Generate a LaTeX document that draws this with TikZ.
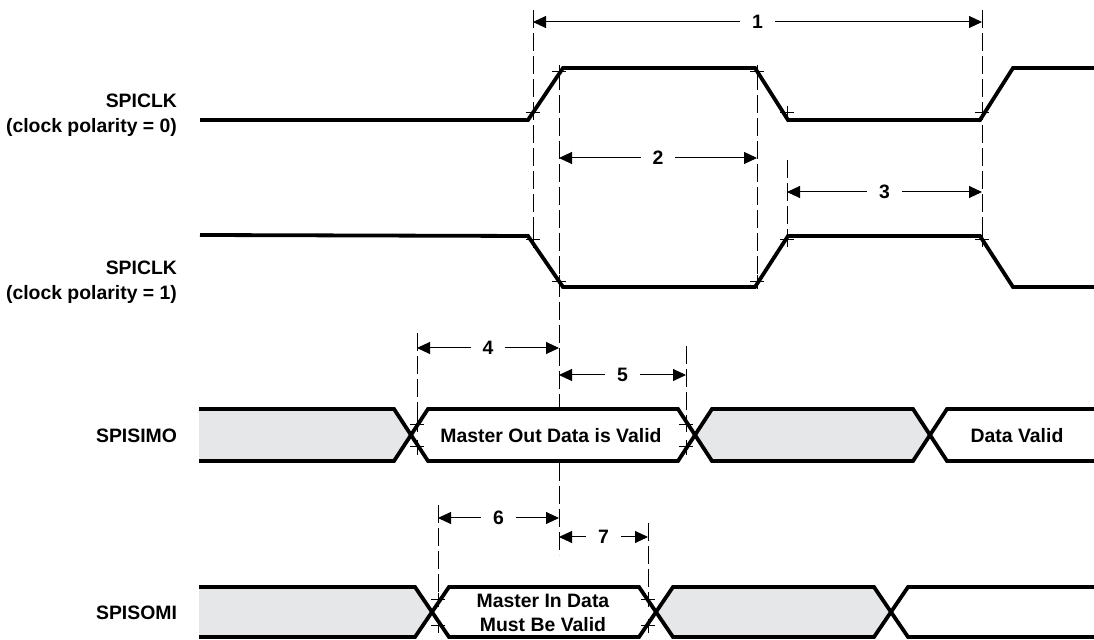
\documentclass[tikz,border=0pt]{standalone}
\usepackage{fontspec}
\setmainfont{Liberation Sans}
\usepackage{tikz}
\usetikzlibrary{arrows.meta}
\definecolor{busgray}{RGB}{230,231,232}

\begin{document}
\begin{tikzpicture}[x=0.5pt, y=-0.5pt,
        font=\fontsize{9.7}{12.3}\selectfont\bfseries,
        signal/.style={line width=1.9pt, line join=miter},
        guide/.style={line width=0.5pt, dash pattern=on 9pt off 2.5pt},
        tick/.style={line width=0.5pt},
        dim/.style={line width=0.5pt, {Triangle[length=6.5pt,width=6pt]}-{Triangle[length=6.5pt,width=6pt]}},
        gap/.style={fill=white, inner xsep=6pt, inner ysep=1pt}]

        \useasboundingbox (0,0) rectangle (1094,640);

        \foreach \gx/\gtop/\gbot in {533/10/248, 559/72/555, 757/72/284, 787/160/242, 982/10/246,
                417/333/455, 686/346/455, 438/505/630, 648/523/630}
            \draw[guide] (\gx,\gtop) -- (\gx,\gbot);

        % SPISIMO bus
        \fill[busgray] (199,409) -- (394,409) -- (411,435) -- (394,461) -- (199,461) -- cycle;
        \fill[white] (411,435) -- (428,409) -- (678,409) -- (695,435) -- (678,461) -- (428,461) -- cycle;
        \fill[busgray] (695,435) -- (712,409) -- (913,409) -- (930,435) -- (913,461) -- (712,461) -- cycle;
        \draw[signal] (199,409) -- (394,409) -- (428,461) -- (678,461) -- (712,409) -- (913,409) -- (947,461) -- (1094,461);
        \draw[signal] (199,461) -- (394,461) -- (428,409) -- (678,409) -- (712,461) -- (913,461) -- (947,409) -- (1094,409);

        % SPISOMI bus
        \fill[busgray] (199,587) -- (415,587) -- (432,612) -- (415,637) -- (199,637) -- cycle;
        \fill[white] (432,612) -- (449,587) -- (639,587) -- (656,612) -- (639,637) -- (449,637) -- cycle;
        \fill[busgray] (656,612) -- (673,587) -- (874,587) -- (891,612) -- (874,637) -- (673,637) -- cycle;
        \draw[signal] (199,587) -- (415,587) -- (449,637) -- (639,637) -- (673,587) -- (874,587) -- (908,637) -- (1094,637);
        \draw[signal] (199,637) -- (415,637) -- (449,587) -- (639,587) -- (673,637) -- (874,637) -- (908,587) -- (1094,587);

        % clocks
        \draw[signal] (200,120) -- (528,120) -- (563,68) -- (755,68) -- (788,120) -- (980,120) -- (1013,68) -- (1094,68);
        \draw[signal] (200,235) -- (528,236) -- (563,287) -- (755,287) -- (788,236) -- (980,236) -- (1013,287) -- (1094,287);

        \foreach \px/\py in {533/113, 559/72, 757/72, 787/113, 982/113, 533/240, 559/282, 757/282, 787/240, 982/240,
                417/425, 417/447, 686/425, 686/447, 438/600, 438/626, 648/600, 648/626}
            \draw[tick] (\px-7,\py) -- (\px+7,\py) (\px,\py-7) -- (\px,\py+7);

        \foreach \dn/\xa/\xb/\dy in {1/533/982/22, 2/559/757/158, 3/787/982/192, 4/417/559/348,
                5/559/686/375, 6/438/559/518, 7/559/648/537} {
            \coordinate (d\dn-l) at (\xa,\dy);
            \coordinate (d\dn-r) at (\xb,\dy);
            \draw[dim] (d\dn-l) -- node[gap] {\dn} (d\dn-r);
        }

        \node (clk0) [anchor=east, align=right] at (184,115) {SPICLK\\(clock polarity = 0)};
        \node (clk1) [anchor=east, align=right] at (184,282) {SPICLK\\(clock polarity = 1)};
        \node (simo) [anchor=east] at (184,436) {SPISIMO};
        \node (somi) [anchor=east] at (184,613) {SPISOMI};

        \node (simodata) at (551,436) {Master Out Data is Valid};
        \node (simonext) at (1017,436) {Data Valid};
        \node (somidata) [align=center] at (543,613) {Master In Data\\Must Be Valid};
    \end{tikzpicture}
\end{document}
